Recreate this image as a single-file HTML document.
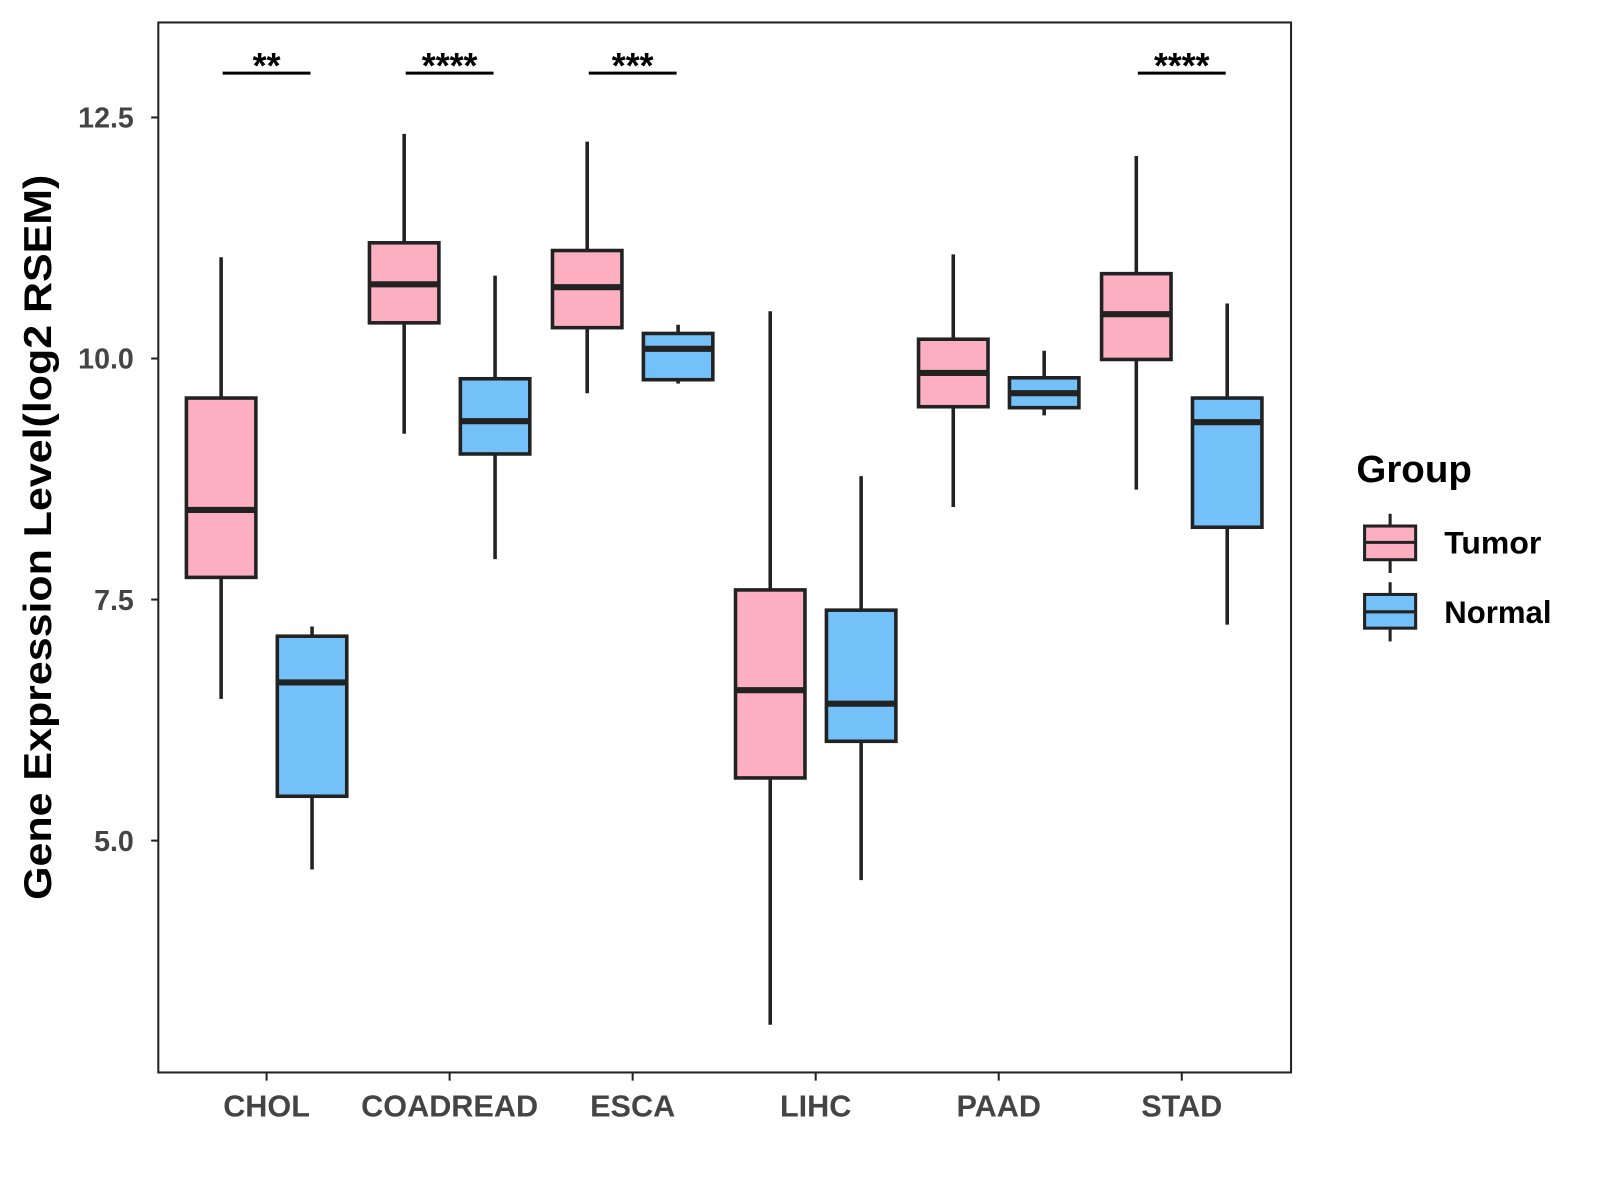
<!DOCTYPE html>
<html><head><meta charset="utf-8"><style>
html,body{margin:0;padding:0;background:#fff;}
svg{display:block;font-family:"Liberation Sans",Arial,sans-serif;}
</style></head><body>
<svg width="1600" height="1200" viewBox="0 0 1600 1200">
<g id="chart" transform="scale(1.0214)">
<rect x="155" y="22" width="1109" height="1028" fill="#fff" stroke="#222" stroke-width="2"/>
<g id="marks"></g>
<text transform="translate(50,526) rotate(-90)" text-anchor="middle" font-size="38" font-weight="bold" fill="#000" textLength="710" lengthAdjust="spacingAndGlyphs">Gene Expression Level(log2 RSEM)</text>
<g>
<text x="1328" y="472" font-size="37" font-weight="bold" fill="#000" textLength="113" lengthAdjust="spacingAndGlyphs">Group</text>
<g>
<line x1="1361" y1="503" x2="1361" y2="561" stroke="#222" stroke-width="3"/>
<rect x="1336" y="515" width="50" height="33" fill="#FCAFC1" stroke="#222" stroke-width="3"/>
<line x1="1336" y1="531" x2="1386" y2="531" stroke="#222" stroke-width="3"/>
<text x="1414" y="542" font-size="31" font-weight="bold" fill="#000" textLength="95" lengthAdjust="spacingAndGlyphs">Tumor</text></g>
<g>
<line x1="1361" y1="570" x2="1361" y2="628" stroke="#222" stroke-width="3"/>
<rect x="1336" y="582" width="50" height="33" fill="#74C0F8" stroke="#222" stroke-width="3"/>
<line x1="1336" y1="599" x2="1386" y2="599" stroke="#222" stroke-width="3"/>
<text x="1414" y="610" font-size="31" font-weight="bold" fill="#000" textLength="105" lengthAdjust="spacingAndGlyphs">Normal</text></g>
</g>
</g>
</svg>
<script>
const categories=["CHOL","COADREAD","ESCA","LIHC","PAAD","STAD"];
const tumorLow=[6.47,9.22,9.64,3.09,8.46,8.64];
const tumorQ1=[7.73,10.37,10.32,5.65,9.50,9.99];
const tumorMed=[8.43,10.77,10.74,6.56,9.85,10.46];
const tumorQ3=[9.59,11.20,11.12,7.60,10.20,10.88];
const tumorHigh=[11.05,12.33,12.25,10.49,11.08,12.10];
const normalLow=[4.70,7.92,9.74,4.59,9.41,7.24];
const normalQ1=[5.46,9.01,9.78,6.03,9.49,8.25];
const normalMed=[6.64,9.35,10.10,6.42,9.64,9.34];
const normalQ3=[7.12,9.79,10.26,7.39,9.80,9.59];
const normalHigh=[7.22,10.86,10.35,8.78,10.08,10.57];
const sigLabels=["**","****","***","","","****"];
const yTicks=[5.0,7.5,10.0,12.5];
const sigLevel=12.96;

const NS="http://www.w3.org/2000/svg";
const svg=document.getElementById('chart');
const g=document.getElementById('marks');
function y(v){return 351-(v-10)*94.4;}
function x(i){return 261+i*179.2;}
function mk(tag,attrs,parent){const e=document.createElementNS(NS,tag);for(const k in attrs)e.setAttribute(k,attrs[k]);(parent||g).appendChild(e);return e;}
yTicks.forEach(t=>{
  const l=mk('line',{x1:148,x2:155,y1:y(t),y2:y(t),stroke:'#222','stroke-width':2},svg);
  
  
  const tx=mk('text',{x:131,y:y(t)+10,'text-anchor':'end','font-size':28,'font-weight':'bold',fill:'#444'},svg);
  tx.textContent=t.toFixed(1);
  
  
});
function box(cx,lo,q1,md,q3,hi,fill,name){
  const grp=mk('g',{});
  
  
  mk('line',{x1:cx,x2:cx,y1:y(hi),y2:y(lo),stroke:'#222','stroke-width':3.5},grp);
  mk('rect',{x:cx-34,y:y(q3),width:68,height:y(q1)-y(q3),fill:fill,stroke:'#222','stroke-width':3.5},grp);
  mk('line',{x1:cx-34,x2:cx+34,y1:y(md),y2:y(md),stroke:'#222','stroke-width':6},grp);
}
categories.forEach((c,i)=>{
  const cx=x(i);
  box(cx-44.5,tumorLow[i],tumorQ1[i],tumorMed[i],tumorQ3[i],tumorHigh[i],'#FCAFC1','box-tumor-'+c.toLowerCase());
  box(cx+44.5,normalLow[i],normalQ1[i],normalMed[i],normalQ3[i],normalHigh[i],'#74C0F8','box-normal-'+c.toLowerCase());
  const tk=mk('line',{x1:cx,x2:cx,y1:1050,y2:1058,stroke:'#222','stroke-width':2},svg);
  
  
  const lb=mk('text',{x:cx,y:1093,'text-anchor':'middle','font-size':30,'font-weight':'bold',fill:'#444'},svg);
  lb.textContent=c;
  
  
  if(sigLabels[i]){
    const sl=mk('line',{x1:cx-43,x2:cx+43,y1:y(sigLevel),y2:y(sigLevel),stroke:'#000','stroke-width':3});
    
    
    const st=mk('text',{x:cx,y:y(sigLevel)+5,'text-anchor':'middle','font-size':35,'font-weight':'bold',fill:'#000'});
    st.textContent=sigLabels[i];
    
    
  }
});
</script>
</body></html>
